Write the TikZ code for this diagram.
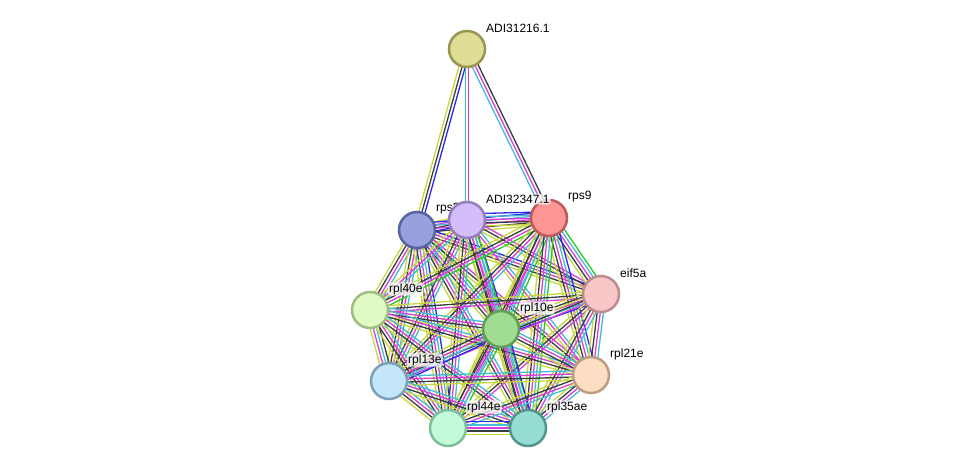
\documentclass[tikz,border=0pt]{standalone}
\usepackage{fontspec}
\setmainfont{Liberation Sans}
\usetikzlibrary{calc}
\definecolor{ctm}{RGB}{199,216,60}
\definecolor{cco}{RGB}{60,60,60}
\definecolor{cex}{RGB}{218,62,218}
\definecolor{cdb}{RGB}{70,185,215}
\definecolor{ccu}{RGB}{40,40,240}
\definecolor{cnb}{RGB}{40,200,40}
\tikzset{
  prot/.style={circle, minimum size=36pt, inner sep=0pt, line width=2.5pt},
  lbl/.style={anchor=west, font=\fontsize{12pt}{12pt}\selectfont, fill=white, fill opacity=0.75, text opacity=1, inner sep=1pt, rounded corners=2pt},
  edgeline/.style={line width=1.3pt}
}
\newcommand{\edg}[3]{%
  \foreach \cc [count=\ii] in {#3} {\xdef\ecount{\ii}}%
  \foreach \cc [count=\ii] in {#3} {%
    \pgfmathsetmacro\eoff{(\ii-1-(\ecount-1)/2)*3.1}%
    \draw[edgeline, \cc] ($(#1)!\eoff pt!90:(#2)$) -- ($(#2)!\eoff pt!-90:(#1)$);
  }%
}
\begin{document}
\begin{tikzpicture}[x=1pt,y=-1pt]
\useasboundingbox (0,0) rectangle (975,474);
\coordinate (T) at (467,49);
\coordinate (A) at (417,230);
\coordinate (B) at (467,220);
\coordinate (C) at (549,218);
\coordinate (D) at (601,294);
\coordinate (E) at (370,310);
\coordinate (F) at (501,329);
\coordinate (G) at (389,381);
\coordinate (H) at (591,375);
\coordinate (I) at (448,428);
\coordinate (J) at (528,428);
% edges
\edg{T}{A}{ctm,cco,ccu}
\edg{T}{B}{cdb,cex}
\edg{T}{C}{cdb,cex,cco}
\edg{A}{B}{ccu,cco,cex,ctm}
\edg{A}{C}{ctm,cco,cex,cdb,ccu}
\edg{A}{D}{ctm,cco,cex,ccu}
\edg{A}{E}{ctm,cco,cex,cdb}
\edg{A}{F}{ctm,cco,cex,cdb,cnb}
\edg{A}{G}{ctm,cco,cex,cdb}
\edg{A}{H}{ctm,cco,cex}
\edg{A}{I}{ctm,cco,cex,cdb,ccu}
\edg{A}{J}{ctm,cco,cex,cdb}
\edg{B}{C}{ctm,cco,cex,cdb,ccu}
\edg{B}{D}{ctm,cco,cex}
\edg{B}{E}{ctm,cex,cdb}
\edg{B}{F}{ctm,cco,cex,cdb,ccu}
\edg{B}{G}{ctm,cco,cex,cdb}
\edg{B}{H}{ctm,cex,cdb}
\edg{B}{I}{ctm,cco,cex,cdb}
\edg{B}{J}{ctm,cco,cex,cdb,cnb}
\edg{C}{D}{ctm,cco,cex,cdb,cnb}
\edg{C}{E}{ctm,cco,cex,cnb}
\edg{C}{F}{ctm,cco,cex,cdb,cnb}
\edg{C}{G}{ctm,cco,cex,cdb}
\edg{C}{H}{ctm,cco,cex,cdb,ccu}
\edg{C}{I}{ctm,cco,cex,cdb}
\edg{C}{J}{ctm,cco,cex,cdb,cnb}
\edg{D}{E}{ctm,cco,cex}
\edg{D}{F}{ctm,cco,cex,cdb,ccu}
\edg{D}{G}{ctm,cco,cex}
\edg{D}{H}{ctm,cco,cex,cdb}
\edg{D}{I}{ctm,cco,cex}
\edg{D}{J}{ctm,cco,cex,cdb}
\edg{E}{F}{ctm,cco,cex,cdb}
\edg{E}{G}{ctm,cex,cdb,cco}
\edg{E}{H}{ctm,cco,cex,cdb}
\edg{E}{I}{ctm,cco,cex,cdb}
\edg{E}{J}{ctm,cco,cex,cdb}
\edg{F}{G}{ctm,cco,cex,cdb,ccu}
\edg{F}{H}{ctm,cco,cex,cdb}
\edg{F}{I}{ctm,cco,cex,cdb,cnb}
\edg{F}{J}{ctm,cco,cex,cdb,ccu}
\edg{G}{H}{ctm,cco,cex,cdb}
\edg{G}{I}{ctm,cco,cex,cdb}
\edg{G}{J}{ctm,cco,cex,cdb}
\edg{H}{I}{ctm,cco,cex,cdb}
\edg{H}{J}{ctm,cco,cex,cdb}
\edg{I}{J}{ctm,cco,cex,cdb,ccu}
% nodes
\node[prot, fill={rgb,255:red,152;green,160;blue,222}, draw={rgb,255:red,88;green,100;blue,160}] (nA) at (A) {};
\node[lbl] (lA) at ($(A)+(18,-21)$) {rps3ae};
\node[prot, fill={rgb,255:red,224;green,222;blue,150}, draw={rgb,255:red,152;green,150;blue,80}] (nT) at (T) {};
\node[prot, fill={rgb,255:red,212;green,190;blue,250}, draw={rgb,255:red,150;green,125;blue,190}] (nB) at (B) {};
\node[prot, fill={rgb,255:red,255;green,150;blue,150}, draw={rgb,255:red,190;green,90;blue,90}] (nC) at (C) {};
\node[prot, fill={rgb,255:red,248;green,200;blue,200}, draw={rgb,255:red,190;green,140;blue,140}] (nD) at (D) {};
\node[prot, fill={rgb,255:red,225;green,250;blue,195}, draw={rgb,255:red,160;green,190;blue,130}] (nE) at (E) {};
\node[prot, fill={rgb,255:red,160;green,220;blue,145}, draw={rgb,255:red,95;green,160;blue,85}] (nF) at (F) {};
\node[prot, fill={rgb,255:red,195;green,230;blue,250}, draw={rgb,255:red,125;green,160;blue,185}] (nG) at (G) {};
\node[prot, fill={rgb,255:red,252;green,222;blue,195}, draw={rgb,255:red,190;green,155;blue,130}] (nH) at (H) {};
\node[prot, fill={rgb,255:red,195;green,250;blue,220}, draw={rgb,255:red,125;green,190;blue,155}] (nI) at (I) {};
\node[prot, fill={rgb,255:red,150;green,222;blue,210}, draw={rgb,255:red,80;green,150;blue,140}] (nJ) at (J) {};
% labels
\node[lbl] (lT) at ($(T)+(18,-21)$) {ADI31216.1};
\node[lbl] (lB) at ($(B)+(18,-21)$) {ADI32347.1};
\node[lbl] (lC) at ($(C)+(18,-21)$) {rps9};
\node[lbl] (lD) at ($(D)+(18,-21)$) {eif5a};
\node[lbl] (lE) at ($(E)+(18,-21)$) {rpl40e};
\node[lbl] (lF) at ($(F)+(18,-21)$) {rpl10e};
\node[lbl] (lG) at ($(G)+(18,-21)$) {rpl13e};
\node[lbl] (lH) at ($(H)+(18,-21)$) {rpl21e};
\node[lbl] (lI) at ($(I)+(18,-21)$) {rpl44e};
\node[lbl] (lJ) at ($(J)+(18,-21)$) {rpl35ae};
\end{tikzpicture}
\end{document}
